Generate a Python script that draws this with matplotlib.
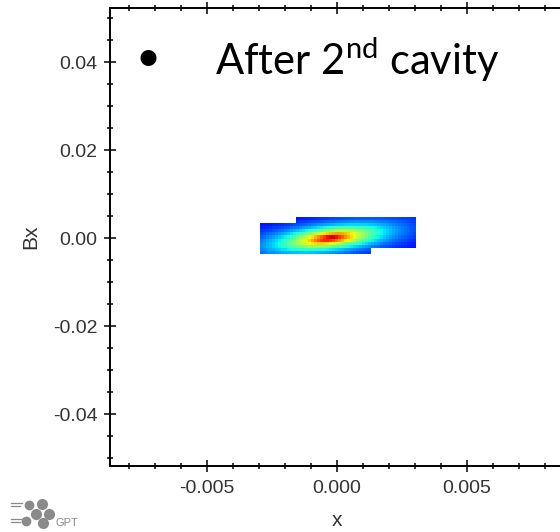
import numpy as np
import matplotlib
matplotlib.use("Agg")
import matplotlib.pyplot as plt
from matplotlib.colors import ListedColormap
from matplotlib.lines import Line2D
from matplotlib.ticker import MultipleLocator, FixedLocator, FixedFormatter

# ---- data ----
x_ticks = [-0.005, 0.0, 0.005]
x_tick_labels = ["-0.005", "0.000", "0.005"]
y_ticks = [-0.04, -0.02, 0.0, 0.02, 0.04]
y_tick_labels = ["-0.04", "-0.02", "0.00", "0.02", "0.04"]
x_limits = [-0.00873, 0.00873]
y_limits = [-0.0518, 0.0523]

# beam distribution (phase space x vs Bx) estimated from the density map
beam_center = [-0.00027, 0.0]          # x, Bx
beam_scale = [0.0017, 0.0024]          # decay scale in x, Bx
beam_corr = 0.45
beam_shape = 0.6                       # profile exponent on the quadratic form
# extent of the populated cells (two overlapping boxes): x0, x1, y0, y1
box_left = [-0.00296, 0.00135, -0.0036, 0.0036]
box_right = [-0.00158, 0.00304, -0.0025, 0.0048]
cell_counts = [52, 12]

title_text = "After 2$^{\\mathrm{nd}}$ cavity"

# ---- figure ----
plt.rcParams['mathtext.fontset'] = 'custom'
plt.rcParams['mathtext.rm'] = 'Lato'
fig = plt.figure(figsize=(5.6, 5.32), dpi=100)
ax = fig.add_axes([110/560, 66/532, (564-110)/560, (466-8)/532])

# density grid
xe = np.linspace(min(box_left[0], box_right[0]), max(box_left[1], box_right[1]), cell_counts[0] + 1)
ye = np.linspace(min(box_left[2], box_right[2]), max(box_left[3], box_right[3]), cell_counts[1] + 1)
xc = 0.5 * (xe[:-1] + xe[1:])
yc = 0.5 * (ye[:-1] + ye[1:])
XX, YY = np.meshgrid(xc, yc)
u = (XX - beam_center[0]) / beam_scale[0]
v = (YY - beam_center[1]) / beam_scale[1]
r = beam_corr
q = (u**2 - 2*r*u*v + v**2) / (1 - r**2)
dens = np.exp(-q**beam_shape)
inside = (((XX >= box_left[0]) & (XX <= box_left[1]) & (YY >= box_left[2]) & (YY <= box_left[3])) |
          ((XX >= box_right[0]) & (XX <= box_right[1]) & (YY >= box_right[2]) & (YY <= box_right[3])))
dens = np.ma.masked_where(~inside, dens)

cmap = ListedColormap(plt.get_cmap('jet')(np.linspace(0.11, 0.92, 256)))
ax.pcolormesh(xe, ye, dens, cmap=cmap, vmin=0, vmax=dens.max(), shading='flat', zorder=1)

ax.set_xlim(x_limits)
ax.set_ylim(y_limits)
ax.xaxis.set_major_locator(FixedLocator(x_ticks))
ax.xaxis.set_major_formatter(FixedFormatter(x_tick_labels))
ax.yaxis.set_major_locator(FixedLocator(y_ticks))
ax.yaxis.set_major_formatter(FixedFormatter(y_tick_labels))
ax.xaxis.set_minor_locator(MultipleLocator(0.001))
ax.yaxis.set_minor_locator(MultipleLocator(0.005))

for s in ax.spines.values():
    s.set_linewidth(1.4)
    s.set_color('black')
ax.tick_params(which='both', direction='inout', top=True, right=False, width=1.1, color='black')
ax.tick_params(which='major', length=8)
ax.tick_params(which='minor', length=4.3)
ax.tick_params(axis='x', which='major', pad=6, labelsize=14, labelcolor='#333333')
ax.tick_params(axis='y', which='major', pad=5, labelsize=14, labelcolor='#333333')
for lab in ax.get_xticklabels() + ax.get_yticklabels():
    lab.set_family('Liberation Sans')

ax.set_xlabel('x', family='Liberation Sans', fontsize=15, color='#333333', labelpad=10)
ax.set_ylabel('Bx', family='Liberation Sans', fontsize=15, color='#333333', labelpad=9)

# slide text
fig.text(148/560, 1 - 59/532, "\u2022", family='Lato', fontsize=31, ha='center', va='center', color='black')
fig.text(215/560, 1 - 75/532, title_text, family='Lato', fontsize=30, ha='left', va='baseline', color='black')

# GPT logo
logo_color = '#8a8a8a'
for (y, x0, x1) in [(503, 11, 22), (506, 11, 20), (519, 11, 22), (522, 11, 20)]:
    fig.add_artist(Line2D([x0/560, x1/560], [1 - y/532, 1 - y/532], color=logo_color, lw=0.9, transform=fig.transFigure))
for (x, y, s) in [(29, 505, 6), (42, 504, 7), (36, 514, 7), (49, 514, 7), (26, 521, 6), (43, 523, 7)]:
    fig.add_artist(Line2D([x/560], [1 - y/532], marker='o', markersize=s, color=logo_color, mec=logo_color, transform=fig.transFigure))
fig.text(55/560, 1 - 523/532, "GPT", family='Liberation Sans', fontsize=8, color=logo_color, va='center', ha='left')

fig.savefig('out.png', dpi=100)
